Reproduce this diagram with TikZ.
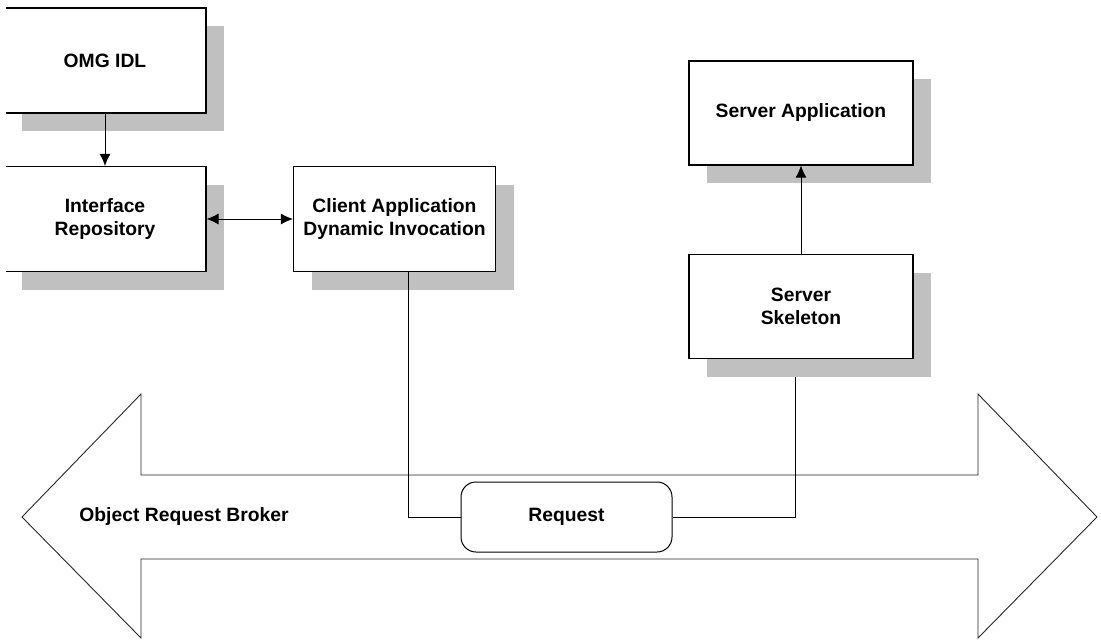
\documentclass[tikz,border=0pt]{standalone}
\usepackage{fontspec}
\setmainfont{Liberation Sans}
\usepackage{tikz}
\usetikzlibrary{positioning,shadows,arrows.meta}

\definecolor{shadowgray}{HTML}{C0C0C0}
\tikzset{
  box/.style={draw, fill=white, line width=1.1pt, minimum width=202pt, minimum height=105pt,
    align=center, font=\fontsize{19.3pt}{23pt}\selectfont\bfseries,
    drop shadow={shadow xshift=18pt, shadow yshift=-18pt, fill=shadowgray, opacity=1}},
  widebox/.style={box, minimum width=224pt, minimum height=104pt},
  reqbox/.style={draw, fill=white, line width=1pt, rounded corners=15pt, minimum width=211pt,
    minimum height=70pt, font=\fontsize{19.3pt}{23pt}\selectfont\bfseries},
  orb/.style={draw=black!85, line width=0.9pt}
}

\begin{document}
\begin{tikzpicture}[x=1pt,y=-1pt,on grid,>={Latex[length=12pt,width=11pt]},line width=1pt]
        \useasboundingbox (0,0) rectangle (1101,640);
        \clip (6,0) rectangle (1101,640);
        % broker arrow
        \draw[orb] (22,517) -- (141,394) -- (141,475) -- (978,475) -- (978,394) -- (1097,517)
          -- (978,638) -- (978,559) -- (141,559) -- (141,638) -- cycle;
        \node[font=\fontsize{19.3pt}{23pt}\selectfont\bfseries] (broker) at (184,517) {Object Request Broker};

        \node[box] (idl) at (105,60.5) {OMG IDL};
        \node[box] (repo) [below=158.5pt of idl] {Interface\\Repository};
        \node[box] (client) [right=289.5pt of repo] {Client Application\\Dynamic Invocation};
        \node[widebox] (srvapp) at (801,113) {Server Application};
        \node[widebox] (skel) [below=193.5pt of srvapp] {Server\\Skeleton};
        \node[reqbox] (request) at (566.5,517) {Request};

        \draw[->] (idl) -- (repo);
        \draw[<->] (repo) -- (client);
        \draw[->] (skel) -- (srvapp);
        \draw ([xshift=13.5pt]client.south) |- (request.west);
        \draw (request.east) -| ([xshift=-6pt,yshift=-18pt]skel.south);
    \end{tikzpicture}
\end{document}
